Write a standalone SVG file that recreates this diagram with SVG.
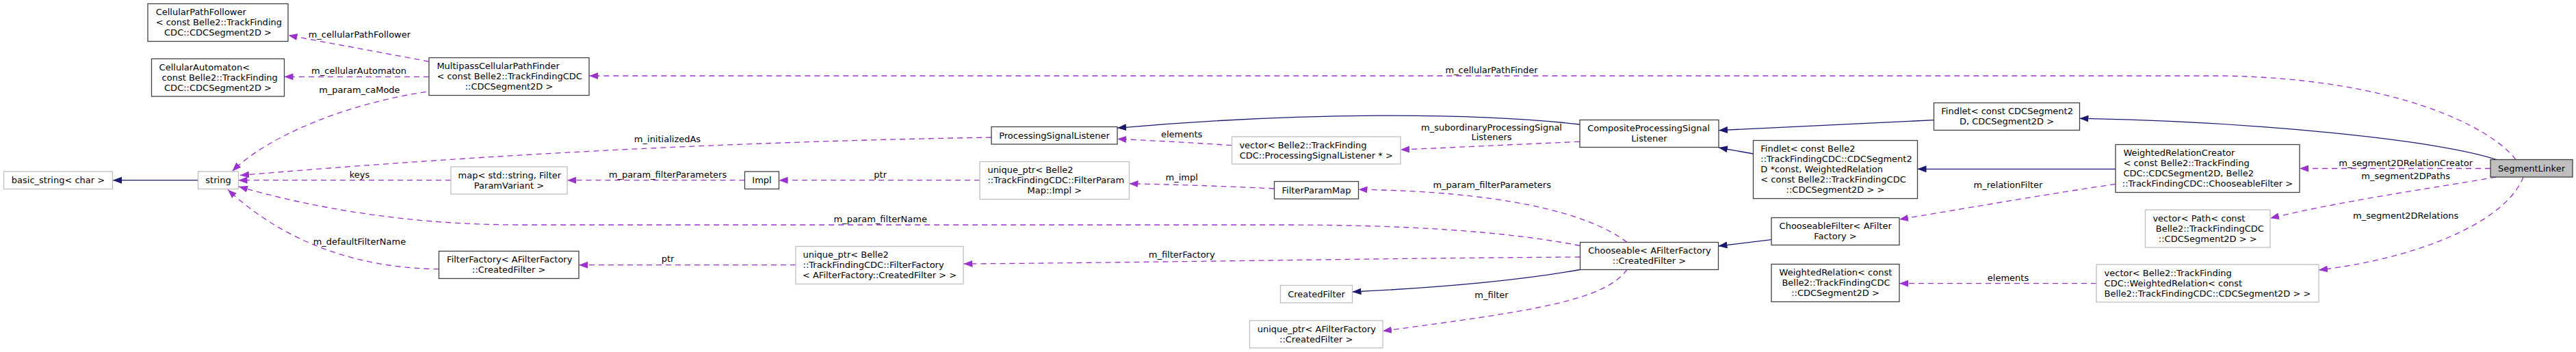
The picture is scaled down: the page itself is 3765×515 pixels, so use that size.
<svg xmlns="http://www.w3.org/2000/svg" width="3765" height="515" viewBox="0 0 3765 515">
<style>
text{font-family:"DejaVu Sans",sans-serif;font-size:13px;fill:#000}
.c{text-anchor:middle}
.n{fill:#fff;stroke:#404040;stroke-width:1.3}
.g{fill:#fff;stroke:#bfbfbf;stroke-width:1.3}
.m{fill:#bfbfbf;stroke:#404040;stroke-width:1.3}
.u{fill:none;stroke:#9a32cd;stroke-width:1.3;stroke-dasharray:8,6;marker-end:url(#ap)}
.h{fill:none;stroke:#191970;stroke-width:1.3;marker-end:url(#ab)}
</style>
<defs>
<marker id="ap" markerUnits="userSpaceOnUse" viewBox="0 0 13 10" refX="13" refY="5" markerWidth="13" markerHeight="10" orient="auto"><path d="M0,0 L13,5 L0,10 z" fill="#9a32cd" stroke="none"/></marker>
<marker id="ab" markerUnits="userSpaceOnUse" viewBox="0 0 13 10" refX="13" refY="5" markerWidth="13" markerHeight="10" orient="auto"><path d="M0,0 L13,5 L0,10 z" fill="#191970" stroke="none"/></marker>
</defs>
<rect x="0" y="0" width="3765" height="515" fill="#fff"/>
<g id="connectors">
<path class="u" d="M627,90 L421.5,51.7"/>
<text class="c" x="525.4" y="54.7">m_cellularPathFollower</text>
<path class="u" d="M627,112.3 L415.5,112.3"/>
<text class="c" x="524.5" y="108">m_cellularAutomaton</text>
<path class="u" d="M622.7,134.3 C505,152 390,200 339.5,250.5"/>
<text class="c" x="525.4" y="136">m_param_caMode</text>
<path class="u" d="M3677,233.5 C3640,185 3500,115 3250,111 L861,111"/>
<text class="c" x="2180" y="106.7">m_cellularPathFinder</text>
<path class="u" d="M1449,201 Q900,210 351,256.5"/>
<text class="c" x="975.5" y="208.3">m_initializedAs</text>
<path class="u" d="M659,263.7 L348.5,263.7"/>
<text class="c" x="525.4" y="259.7">keys</text>
<path class="u" d="M1088.5,263.7 L829,263.7"/>
<text class="c" x="976" y="259.7">m_param_filterParameters</text>
<path class="u" d="M1432,263.7 L1138.5,263.7"/>
<text class="c" x="1286.7" y="259.7">ptr</text>
<path class="u" d="M1862.5,276 C1780,272 1720,270 1650.5,268.7"/>
<text class="c" x="1727.2" y="264">m_impl</text>
<path class="u" d="M2378,354.5 C2320,310 2190,280 1985.5,277.3"/>
<text class="c" x="2180.7" y="274.7">m_param_filterParameters</text>
<path class="u" d="M2309.5,359.5 C2200,338 2050,329 1880,329 L760,329 C600,329 460,305 349,273"/>
<text class="c" x="1286.7" y="324.7">m_param_filterName</text>
<path class="u" d="M2309.5,376 C2000,378 1700,384 1408.5,386"/>
<text class="c" x="1727.2" y="376.7">m_filterFactory</text>
<path class="u" d="M1163,387.7 L846,387.7"/>
<text class="c" x="976" y="383.3">ptr</text>
<path class="u" d="M641.5,393.7 C500,392 400,340 333,277.5"/>
<text class="c" x="525.4" y="358.3">m_defaultFilterName</text>
<path class="h" d="M2309.5,394.5 C2200,414 2080,422 1976.5,427"/>
<path class="u" d="M2378,394.5 C2345,440 2240,455 2021,484.3"/>
<text class="c" x="2180" y="435.7">m_filter</text>
<path class="h" d="M2309,182 C2150,164 1900,164 1633,187.3"/>
<path class="u" d="M2309,207.3 C2200,212 2120,216 2047,219"/>
<text class="c" x="2180" y="190.7">m_subordinaryProcessingSignal</text>
<text class="c" x="2180" y="204.7">Listeners</text>
<path class="u" d="M1800.5,212.7 C1730,208 1690,206 1633,203.3"/>
<text class="c" x="1727.2" y="200.7">elements</text>
<path class="h" d="M2826.5,175.7 L2512,190.7"/>
<path class="h" d="M2562.5,225 L2512,216"/>
<path class="h" d="M3649,233.5 C3560,205 3300,178 3039.5,173.3"/>
<path class="h" d="M3092,247.3 L2802.5,247.3"/>
<path class="u" d="M3640,246.5 L3361,246.5"/>
<text class="c" x="3516.2" y="243">m_segment2DRelationCreator</text>
<path class="u" d="M3648,259 C3590,270 3430,292 3318,319.3"/>
<text class="c" x="3516.2" y="262.3">m_segment2DPaths</text>
<path class="u" d="M3688,259 C3660,330 3520,380 3389,395"/>
<text class="c" x="3516.2" y="319.7">m_segment2DRelations</text>
<path class="u" d="M3064,414.7 L2776,414.7"/>
<text class="c" x="2935" y="410.7">elements</text>
<path class="u" d="M3092,269.3 C3000,283 2900,300 2776,321"/>
<text class="c" x="2935" y="274.7">m_relationFilter</text>
<path class="h" d="M2589,350.7 L2511.5,360"/>
<path class="h" d="M289.5,263.7 L165,263.7"/>
</g>
<g id="CellularPathFollower"><rect class="n" x="216" y="5.5" width="205" height="55"/>
<text x="227.7" y="22">CellularPathFollower</text><text x="227.7" y="37">&lt; const Belle2::TrackFinding</text><text class="c" x="318.5" y="52">CDC::CDCSegment2D &gt;</text></g>
<g id="CellularAutomaton"><rect class="n" x="221.5" y="86" width="194" height="55"/>
<text x="232.6" y="102.5">CellularAutomaton&lt;</text><text x="236.6" y="117.5">const Belle2::TrackFinding</text><text class="c" x="318.5" y="132.5">CDC::CDCSegment2D &gt;</text></g>
<g id="MultipassCellularPathFinder"><rect class="n" x="627" y="84.5" width="234" height="55"/>
<text x="638.4" y="101">MultipassCellularPathFinder</text><text x="638.4" y="116">&lt; const Belle2::TrackFindingCDC</text><text class="c" x="744" y="131">::CDCSegment2D &gt;</text></g>
<g id="basic_string"><rect class="g" x="5.5" y="251" width="159" height="25.5"/>
<text class="c" x="85" y="268">basic_string&lt; char &gt;</text></g>
<g id="string"><rect class="g" x="289.5" y="251" width="59" height="25.5"/>
<text class="c" x="319" y="268">string</text></g>
<g id="map"><rect class="g" x="659" y="244" width="170" height="40"/>
<text x="669.6" y="260.5">map&lt; std::string, Filter</text><text class="c" x="744" y="275.5">ParamVariant &gt;</text></g>
<g id="Impl"><rect class="n" x="1088.5" y="251" width="50" height="25.5"/>
<text class="c" x="1113.5" y="268">Impl</text></g>
<g id="unique_ptr_Impl"><rect class="g" x="1432" y="236.5" width="218.5" height="55"/>
<text x="1443.4" y="253">unique_ptr&lt; Belle2</text><text x="1443.4" y="268">::TrackFindingCDC::FilterParam</text><text class="c" x="1541.3" y="283">Map::Impl &gt;</text></g>
<g id="ProcessingSignalListener"><rect class="n" x="1449" y="185.5" width="184" height="25.5"/>
<text class="c" x="1541" y="202.5">ProcessingSignalListener</text></g>
<g id="vector_PSL"><rect class="g" x="1800.5" y="200" width="246.5" height="40"/>
<text x="1811.4" y="216.5">vector&lt; Belle2::TrackFinding</text><text class="c" x="1923.75" y="231.5">CDC::ProcessingSignalListener * &gt;</text></g>
<g id="FilterParamMap"><rect class="n" x="1862.5" y="265.5" width="123" height="25.5"/>
<text class="c" x="1924" y="282.5">FilterParamMap</text></g>
<g id="FilterFactory"><rect class="n" x="641.5" y="367.5" width="204.5" height="40"/>
<text x="653.1" y="384">FilterFactory&lt; AFilterFactory</text><text class="c" x="743.75" y="399">::CreatedFilter &gt;</text></g>
<g id="unique_ptr_FilterFactory"><rect class="g" x="1163" y="360.5" width="245" height="55"/>
<text x="1173.5" y="377">unique_ptr&lt; Belle2</text><text x="1173.5" y="392">::TrackFindingCDC::FilterFactory</text><text class="c" x="1285.5" y="407">&lt; AFilterFactory::CreatedFilter &gt; &gt;</text></g>
<g id="CreatedFilter"><rect class="g" x="1871.5" y="417.5" width="105" height="25.5"/>
<text class="c" x="1924" y="434.5">CreatedFilter</text></g>
<g id="unique_ptr_CreatedFilter"><rect class="g" x="1826.5" y="469" width="194.5" height="40"/>
<text x="1837.7" y="485.5">unique_ptr&lt; AFilterFactory</text><text class="c" x="1923.75" y="500.5">::CreatedFilter &gt;</text></g>
<g id="CompositeProcessingSignalListener"><rect class="n" x="2309" y="175.5" width="203" height="40"/>
<text x="2320.3" y="192">CompositeProcessingSignal</text><text class="c" x="2410.5" y="207">Listener</text></g>
<g id="Findlet1"><rect class="n" x="2826.5" y="150.5" width="213" height="40"/>
<text x="2837.3" y="167">Findlet&lt; const CDCSegment2</text><text class="c" x="2933" y="182">D, CDCSegment2D &gt;</text></g>
<g id="Findlet2"><rect class="n" x="2562.5" y="205.5" width="240" height="85"/>
<text x="2573.3" y="222">Findlet&lt; const Belle2</text><text x="2573.3" y="237">::TrackFindingCDC::CDCSegment2</text><text x="2573.3" y="252">D *const, WeightedRelation</text><text x="2573.3" y="267">&lt; const Belle2::TrackFindingCDC</text><text class="c" x="2682.5" y="282">::CDCSegment2D &gt; &gt;</text></g>
<g id="ChooseableFilter"><rect class="n" x="2589" y="318.5" width="187" height="40"/>
<text x="2600.6" y="335">ChooseableFilter&lt; AFilter</text><text class="c" x="2682.5" y="350">Factory &gt;</text></g>
<g id="Chooseable"><rect class="n" x="2309.5" y="354.5" width="202" height="40"/>
<text x="2321.3" y="371">Chooseable&lt; AFilterFactory</text><text class="c" x="2410.5" y="386">::CreatedFilter &gt;</text></g>
<g id="WeightedRelation"><rect class="n" x="2589" y="386.5" width="187" height="55"/>
<text x="2600.6" y="403">WeightedRelation&lt; const</text><text x="2604.4" y="418">Belle2::TrackFindingCDC</text><text class="c" x="2682.5" y="433">::CDCSegment2D &gt;</text></g>
<g id="WeightedRelationCreator"><rect class="n" x="3092" y="211.5" width="269" height="70"/>
<text x="3103.4" y="228">WeightedRelationCreator</text><text x="3103.4" y="243">&lt; const Belle2::TrackFinding</text><text x="3103.4" y="258">CDC::CDCSegment2D, Belle2</text><text class="c" x="3226.5" y="273">::TrackFindingCDC::ChooseableFilter &gt;</text></g>
<g id="SegmentLinker"><rect class="m" x="3640" y="233.5" width="120" height="25.5"/>
<text class="c" x="3700" y="250.5">SegmentLinker</text></g>
<g id="vector_Path"><rect class="g" x="3135.5" y="307" width="182.5" height="55"/>
<text x="3146.4" y="323.5">vector&lt; Path&lt; const</text><text x="3150.8" y="338.5">Belle2::TrackFindingCDC</text><text class="c" x="3226.75" y="353.5">::CDCSegment2D &gt; &gt;</text></g>
<g id="vector_WeightedRelation"><rect class="g" x="3064" y="387" width="325" height="55"/>
<text x="3075.6" y="403.5">vector&lt; Belle2::TrackFinding</text><text x="3075.6" y="418.5">CDC::WeightedRelation&lt; const</text><text class="c" x="3226.5" y="433.5">Belle2::TrackFindingCDC::CDCSegment2D &gt; &gt;</text></g>
</svg>
